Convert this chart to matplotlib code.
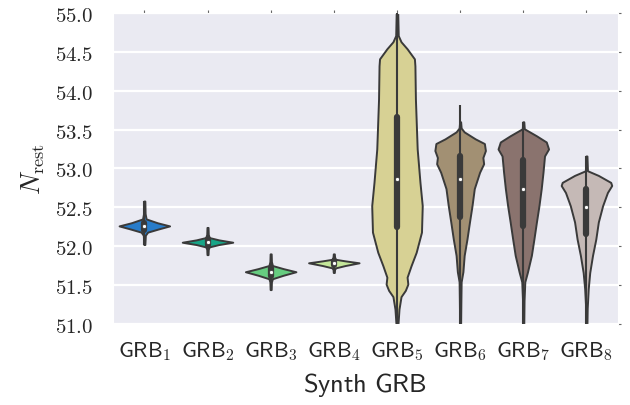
import numpy as np
import matplotlib
matplotlib.use('Agg')
import matplotlib.pyplot as plt
import seaborn as sns

# categories
labels = ['1', '2', '3', '4', '5', '6', '7', '8']

# violin profiles: y values and relative half widths
y1 = [52.02, 52.14, 52.18, 52.22, 52.26, 52.30, 52.35, 52.42, 52.58]
w1 = [0.02, 0.04, 0.13, 0.55, 1.0, 0.52, 0.07, 0.03, 0.02]
y2 = [51.89, 51.96, 51.99, 52.02, 52.05, 52.08, 52.11, 52.15, 52.24]
w2 = [0.02, 0.03, 0.07, 0.45, 1.0, 0.45, 0.07, 0.03, 0.02]
y3 = [51.44, 51.54, 51.58, 51.625, 51.67, 51.71, 51.75, 51.80, 51.90]
w3 = [0.02, 0.03, 0.07, 0.5, 1.0, 0.5, 0.07, 0.03, 0.02]
y4 = [51.66, 51.70, 51.72, 51.75, 51.785, 51.81, 51.83, 51.86, 51.90]
w4 = [0.02, 0.03, 0.07, 0.45, 1.0, 0.45, 0.07, 0.03, 0.02]
y5 = [51.0, 51.19, 51.35, 51.43, 51.51, 51.60, 51.75, 51.92, 52.18, 52.52,
      52.82, 53.25, 53.89, 54.32, 54.41, 54.54, 54.63, 54.71, 55.0]
w5 = [0.04, 0.08, 0.16, 0.33, 0.43, 0.40, 0.56, 0.76, 0.97, 1.0,
      0.91, 0.80, 0.73, 0.71, 0.69, 0.40, 0.16, 0.05, 0.03]
y6 = [51.0, 51.3, 51.54, 51.67, 51.88, 52.09, 52.31, 52.52, 52.74, 52.95,
      53.06, 53.14, 53.23, 53.32, 53.38, 53.47, 53.52, 53.6]
w6 = [0.02, 0.03, 0.04, 0.11, 0.16, 0.27, 0.37, 0.47, 0.56, 0.77,
      0.93, 0.90, 1.0, 0.96, 0.60, 0.16, 0.04, 0.02]
y7 = [51.0, 51.3, 51.54, 51.66, 51.88, 52.09, 52.31, 52.52, 52.74, 52.95,
      53.16, 53.25, 53.34, 53.42, 53.51, 53.6]
w7 = [0.02, 0.03, 0.06, 0.16, 0.32, 0.42, 0.52, 0.62, 0.71, 0.78,
      0.84, 1.0, 0.91, 0.52, 0.04, 0.02]
y8 = [51.0, 51.2, 51.45, 51.66, 51.88, 52.09, 52.31, 52.52, 52.69, 52.78,
      52.82, 52.91, 52.97, 53.16]
w8 = [0.02, 0.03, 0.07, 0.13, 0.24, 0.37, 0.47, 0.64, 0.83, 1.0,
      0.96, 0.47, 0.04, 0.02]

# inner box values
whisk_lo = [52.02, 51.89, 51.44, 51.66, 51.0, 51.0, 51.0, 51.0]
whisk_hi = [52.58, 52.24, 51.90, 51.90, 55.0, 53.82, 53.60, 53.16]
q1 = [52.21, 52.02, 51.61, 51.76, 52.24, 52.37, 52.26, 52.16]
q3 = [52.30, 52.09, 51.72, 51.81, 53.66, 53.16, 53.11, 52.74]
medians = [52.26, 52.05, 51.67, 51.785, 52.86, 52.86, 52.73, 52.50]

yticks = [51.0, 51.5, 52.0, 52.5, 53.0, 53.5, 54.0, 54.5, 55.0]

profiles = [(y1, w1), (y2, w2), (y3, w3), (y4, w4),
            (y5, w5), (y6, w6), (y7, w7), (y8, w8)]

sns.set_style('darkgrid')
plt.rcParams['mathtext.fontset'] = 'cm'
plt.rcParams['text.color'] = '.15'

colors = sns.color_palette('terrain', 8, desat=0.75)
gray = '#3a3a3a'

fig, ax = plt.subplots(figsize=(6.3, 4.06), dpi=100)
fig.subplots_adjust(left=0.179, right=0.981, top=0.9655, bottom=0.2)

positions = np.arange(len(labels))
stats = []
for yy, ww in profiles:
    stats.append({'coords': np.array(yy), 'vals': np.array(ww),
                  'mean': np.mean(yy), 'median': np.median(yy),
                  'min': min(yy), 'max': max(yy)})

parts = ax.violin(stats, positions=positions, widths=0.8,
                  showmeans=False, showextrema=False, showmedians=False)
for body, c in zip(parts['bodies'], colors):
    body.set_facecolor(c)
    body.set_edgecolor(gray)
    body.set_linewidth(1.4)
    body.set_alpha(1)
    body.set_zorder(2)

for i in positions:
    ax.plot([i, i], [whisk_lo[i], whisk_hi[i]], color=gray, lw=1.5,
            solid_capstyle='butt', zorder=3)
    ax.plot([i, i], [q1[i], q3[i]], color=gray, lw=4.5,
            solid_capstyle='round', zorder=3)
ax.scatter(positions, medians, color='white', edgecolor=gray, s=9,
           linewidth=0.6, zorder=4)

ax.set_xlim(-0.5, 7.5)
ax.set_ylim(51.0, 55.0)
ax.set_xticks(positions)
ax.set_xticklabels([r'$\mathsf{GRB}_{%s}$' % l for l in labels], fontsize=16)
ax.set_yticks(yticks)
ax.set_yticklabels([r'$%.1f$' % v for v in yticks], fontsize=15)
ax.xaxis.grid(False)
ax.yaxis.grid(True, color='white', lw=1.6)
ax.tick_params(axis='both', length=2, width=0.8, color='.4',
               top=True, right=True, direction='out')
ax.tick_params(axis='y', pad=12)
ax.tick_params(axis='x', pad=9)

ax.set_xlabel(r'$\mathsf{Synth\ GRB}$', fontsize=19, labelpad=6)
ax.set_ylabel(r'$N_{\rm rest}$', fontsize=19, labelpad=6)

plt.savefig('out.png', dpi=100)
